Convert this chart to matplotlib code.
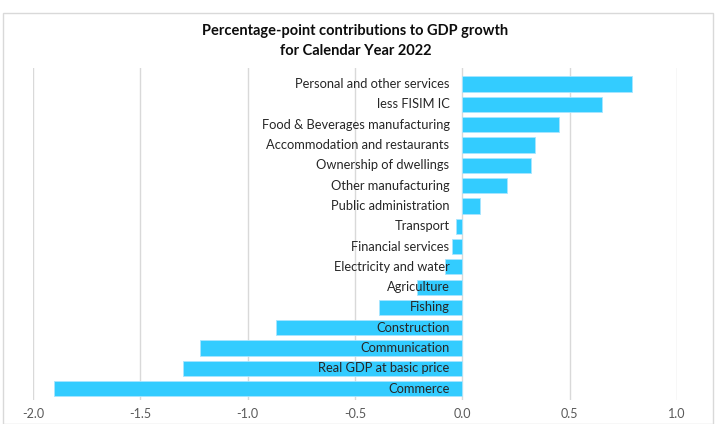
import matplotlib
matplotlib.use('Agg')
import matplotlib.pyplot as plt
from matplotlib.patches import Rectangle

# Сектора сверху вниз
sectors = [
    'Personal and other services', 'less FISIM IC', 'Food & Beverages manufacturing',
    'Accommodation and restaurants', 'Ownership of dwellings', 'Other manufacturing',
    'Public administration', 'Transport', 'Financial services', 'Electricity and water',
    'Agriculture', 'Fishing', 'Construction', 'Communication',
    'Real GDP at basic price', 'Commerce',
]
contrib = [0.79, 0.65, 0.45, 0.34, 0.32, 0.21, 0.08, -0.03, -0.05, -0.08,
           -0.21, -0.39, -0.87, -1.22, -1.30, -1.90]
xticks = [-2.0, -1.5, -1.0, -0.5, 0.0, 0.5, 1.0]

plt.rcParams['font.family'] = ['Lato', 'DejaVu Sans']

fig = plt.figure(figsize=(7.18, 4.24), dpi=100)
ax = fig.add_axes([0.046, 0.057, 0.897, 0.783])

ypos = list(range(len(sectors)))
ax.barh(ypos, contrib, height=0.75, color='#33ccff', edgecolor='#a8e6ff',
        linewidth=0.6, zorder=2)
for y, name in zip(ypos, sectors):
    ax.text(-0.06, y, name, ha='right', va='center', fontsize=9.3,
            color='#262626', zorder=3)

ax.set_xlim(-2.0, 1.0)
ax.set_ylim(len(sectors) - 0.45, -0.8)
ax.set_xticks(xticks)
ax.set_xticklabels([f'{v:.1f}' for v in xticks], fontsize=9, color='#595959')
ax.set_yticks([])
ax.tick_params(axis='x', length=0, pad=6)
ax.grid(axis='x', color='#d9d9d9', linewidth=1, zorder=0)
for s in ax.spines.values():
    s.set_visible(False)

fig.text(0.495, 0.903, 'Percentage-point contributions to GDP growth\nfor Calendar Year 2022',
         ha='center', va='center', fontsize=10.5, fontweight='bold',
         color='#0d0d0d', linespacing=1.6)

fig.patches.append(Rectangle((0.004, 0.0), 0.989, 0.97, transform=fig.transFigure,
                             fill=False, edgecolor='#d9d9d9', linewidth=1))

fig.savefig('out.png', dpi=100)
